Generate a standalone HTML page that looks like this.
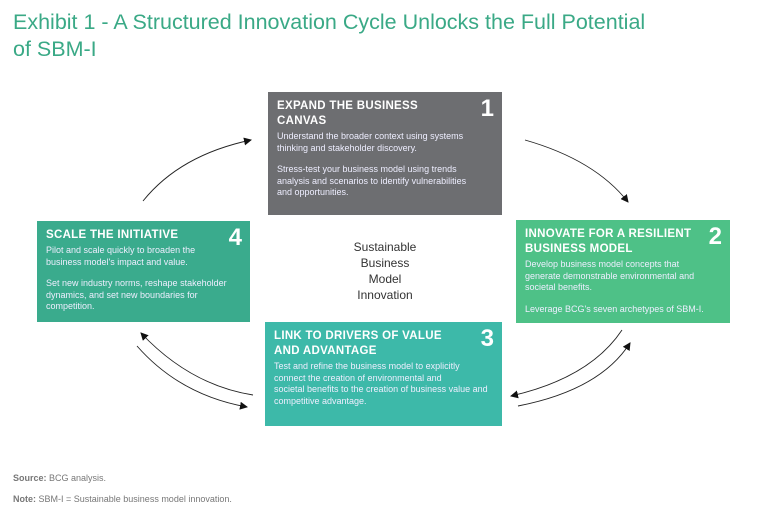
<!DOCTYPE html>
<html><head><meta charset="utf-8"><style>
body{margin:0;width:768px;height:517px;background:#fff;font-family:"Liberation Sans",sans-serif;position:relative;overflow:hidden}
.t{position:absolute;left:13px;top:9px;font-size:21.5px;line-height:27px;color:#3aa986;}
.b{position:absolute;color:#fff;box-sizing:border-box;padding:7px 9px}
.b h3{margin:0;font-size:11.5px;line-height:15px;font-weight:bold;letter-spacing:0.3px;width:88%}
.b p{margin:2px 0 0;font-size:9px;line-height:11.5px;color:#eef;padding-right:18px}
.b p+p{margin-top:10px}
.n{position:absolute;right:8px;top:3px;font-size:24px;font-weight:bold}
.c{position:absolute;left:320px;top:239px;width:130px;text-align:center;font-size:12px;line-height:16px;color:#333}
.f{position:absolute;left:13px;font-size:9px;color:#777}
</style></head><body>
<div class="t">Exhibit 1 - A Structured Innovation Cycle Unlocks the Full Potential<br>of SBM-I</div>
<div class="b" style="left:268px;top:92px;width:234px;height:123px;background:#6d6e71"><div class="n">1</div><h3>EXPAND THE BUSINESS CANVAS</h3><p>Understand the broader context using systems thinking and stakeholder discovery.</p><p>Stress-test your business model using trends analysis and scenarios to identify vulnerabilities and opportunities.</p></div>
<div class="b" style="left:516px;top:220px;width:214px;height:103px;background:#4ec187"><div class="n">2</div><h3>INNOVATE FOR A RESILIENT BUSINESS MODEL</h3><p>Develop business model concepts that generate demonstrable environmental and societal benefits.</p><p style="padding-right:0">Leverage BCG's seven archetypes of SBM-I.</p></div>
<div class="b" style="left:265px;top:322px;width:237px;height:104px;background:#3db9a9"><div class="n">3</div><h3>LINK TO DRIVERS OF VALUE AND ADVANTAGE</h3><p style="padding-right:0">Test and refine the business model to explicitly connect the creation of environmental and<br>societal benefits to the creation of business value and competitive advantage.</p></div>
<div class="b" style="left:37px;top:221px;width:213px;height:101px;background:#3aab8d"><div class="n">4</div><h3>SCALE THE INITIATIVE</h3><p>Pilot and scale quickly to broaden the business model's impact and value.</p><p style="padding-right:0">Set new industry norms, reshape stakeholder dynamics, and set new boundaries for competition.</p></div>
<div class="c">Sustainable<br>Business<br>Model<br>Innovation</div>
<svg width="768" height="517" style="position:absolute;left:0;top:0">
<defs><marker id="a" markerWidth="8" markerHeight="8" refX="7" refY="4" orient="auto" markerUnits="userSpaceOnUse"><path d="M0,0L8,4L0,8z" fill="#111"/></marker></defs>
<g fill="none" stroke="#222" stroke-width="0.9" marker-end="url(#a)">
<path d="M143,201 Q180,155 251,140"/>
<path d="M525,140 Q595,160 628,202"/>
<path d="M622,330 Q590,378 511,396"/>
<path d="M518,406 Q600,390 630,343"/>
<path d="M253,395 Q190,385 141,333"/>
<path d="M137,346 Q180,395 247,407"/>
</g></svg>
<div class="f" style="top:473px"><b>Source:</b> BCG analysis.</div>
<div class="f" style="top:494px"><b>Note:</b> SBM-I = Sustainable business model innovation.</div>
</body></html>
